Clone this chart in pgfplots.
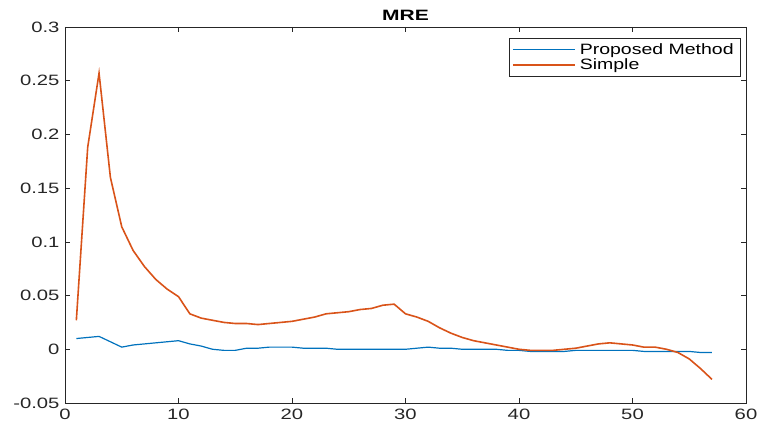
\documentclass[border=0pt]{standalone}
\usepackage{fontspec}
\setmainfont{Liberation Sans}
\newfontfamily\tickfont[FakeStretch=1.35]{Liberation Sans}
\newfontfamily\legfont[FakeStretch=1.3]{Liberation Sans}
\newfontfamily\titfont[FakeStretch=1.4]{Liberation Sans}
\usepackage{pgfplots}
\pgfplotsset{compat=1.18}
\definecolor{mblue}{rgb}{0,0.447,0.741}
\definecolor{morange}{rgb}{0.85,0.325,0.098}
\definecolor{axgray}{rgb}{0.15,0.15,0.15}
\pgfplotstableread{
x y
1 0.010
2 0.011
3 0.012
4 0.007
5 0.002
6 0.004
7 0.005
8 0.006
9 0.007
10 0.008
11 0.005
12 0.003
13 0.000
14 -0.001
15 -0.001
16 0.001
17 0.001
18 0.002
19 0.002
20 0.002
21 0.001
22 0.001
23 0.001
24 0.000
25 0.000
26 0.000
27 0.000
28 0.000
29 0.000
30 0.000
31 0.001
32 0.002
33 0.001
34 0.001
35 0.000
36 0.000
37 0.000
38 0.000
39 -0.001
40 -0.001
41 -0.002
42 -0.002
43 -0.002
44 -0.002
45 -0.001
46 -0.001
47 -0.001
48 -0.001
49 -0.001
50 -0.001
51 -0.002
52 -0.002
53 -0.002
54 -0.002
55 -0.002
56 -0.003
57 -0.003
}\proposed
\pgfplotstableread{
x y
1 0.027
2 0.188
3 0.257
4 0.160
5 0.114
6 0.092
7 0.077
8 0.065
9 0.056
10 0.049
11 0.033
12 0.029
13 0.027
14 0.025
15 0.024
16 0.024
17 0.023
18 0.024
19 0.025
20 0.026
21 0.028
22 0.030
23 0.033
24 0.034
25 0.035
26 0.037
27 0.038
28 0.041
29 0.042
30 0.033
31 0.030
32 0.026
33 0.020
34 0.015
35 0.011
36 0.008
37 0.006
38 0.004
39 0.002
40 0.000
41 -0.001
42 -0.001
43 -0.001
44 0.000
45 0.001
46 0.003
47 0.005
48 0.006
49 0.005
50 0.004
51 0.002
52 0.002
53 0.000
54 -0.003
55 -0.009
56 -0.018
57 -0.028
}\simple
\begin{document}
\begin{tikzpicture}
\useasboundingbox (0,0) rectangle (760pt,427pt);
\begin{axis}[
  at={(65pt,24pt)}, anchor=south west,
  scale only axis, width=681pt, height=376pt,
  xmin=0, xmax=60, ymin=-0.05, ymax=0.3,
  xtick={0,10,...,60},
  ytick={-0.05,0,0.05,0.1,0.15,0.2,0.25,0.3},
  yticklabels={-0.05,0,0.05,0.1,0.15,0.2,0.25,0.3},
  /pgf/number format/assume math mode=true,
  tick align=inside, major tick length=5pt,
  axis line style={axgray, line width=0.6pt},
  tick style={axgray, line width=0.6pt},
  ticklabel style={font=\tickfont\fontsize{15}{17}\selectfont, text=axgray},
  xticklabel style={yshift=-2pt},
  yticklabel style={xshift=-2pt},
  title={\titfont\bfseries MRE},
  title style={font=\fontsize{15}{17}\selectfont, text=black, yshift=-3pt},
  legend style={at={(1,1)}, anchor=north east, xshift=-5pt, yshift=-11pt,
    font=\legfont\fontsize{15}{17}\selectfont, draw=axgray, line width=0.6pt,
    row sep=-1pt, inner sep=3pt,
    nodes={inner xsep=4pt}},
  legend cell align=left,
  legend image code/.code={\draw[#1] (0pt,0pt) -- (62pt,0pt);},
]
\addplot[mblue, line width=1.2pt] table {\proposed};
\addlegendentry{Proposed Method}
\addplot[morange, line width=1.6pt] table {\simple};
\addlegendentry{Simple}
\end{axis}
\end{tikzpicture}
\end{document}
